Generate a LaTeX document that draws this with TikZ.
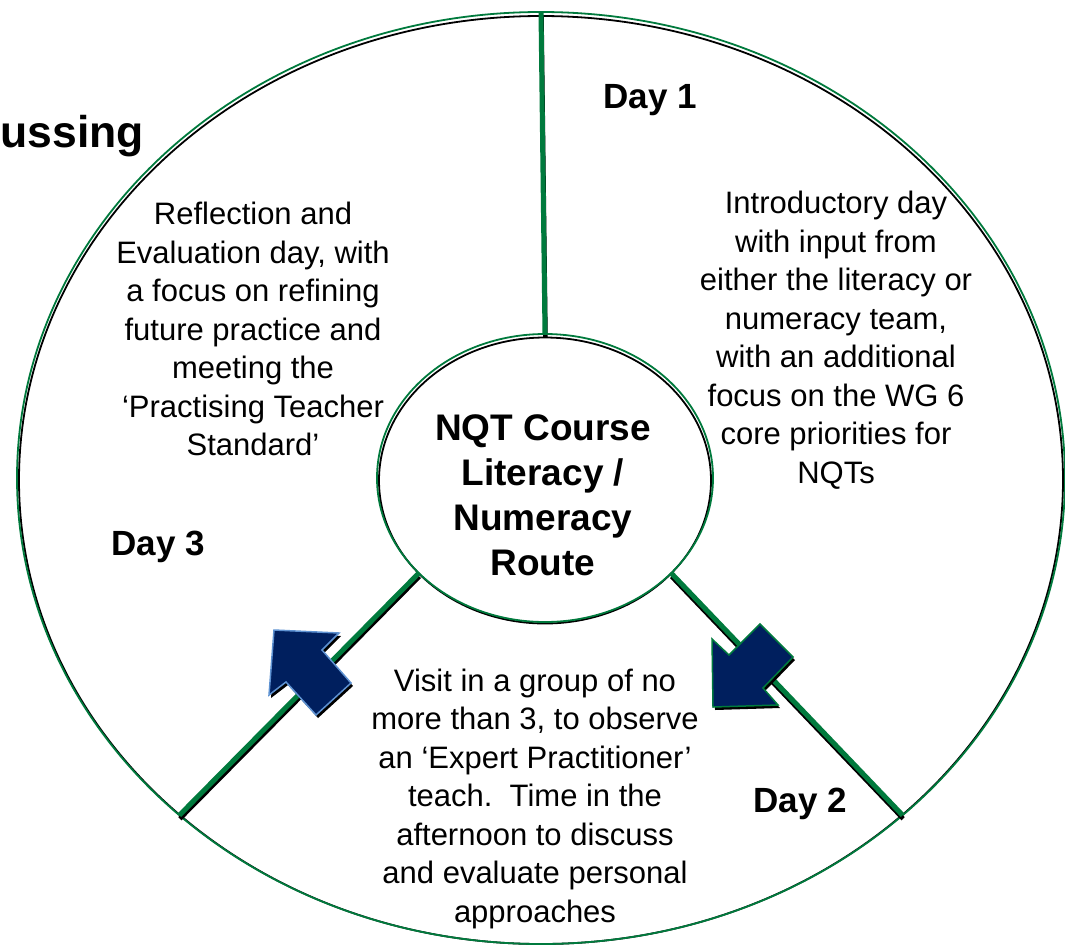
\documentclass[tikz,border=0pt]{standalone}
\usepackage{fontspec}
\setmainfont{Liberation Sans}
\usetikzlibrary{shapes.geometric}
\definecolor{ringgreen}{HTML}{007A3D}
\definecolor{navyfill}{HTML}{001F5E}
\definecolor{lightblue}{HTML}{5E92D2}
\begin{document}
\begin{tikzpicture}[x=1pt,y=-1pt,
  ringline/.style={draw=ringgreen, line width=1.8pt},
  ringshadow/.style={draw=black, line width=1.8pt},
  spoke/.style={draw=ringgreen, line width=5pt},
  spokeshadow/.style={draw=black, line width=4.5pt},
  body/.style={align=center, font=\fontsize{31}{38.5}\selectfont},
  daylabel/.style={font=\bfseries\fontsize{35}{42}\selectfont},
  hubtext/.style={align=center, font=\bfseries\fontsize{37}{45}\selectfont},
  arrowshadow/.style={fill=black, draw=none},
  arrowbody/.style={fill=navyfill, line width=1.5pt, line join=miter},
  ring/.style={ellipse, ringline, inner sep=0pt, outer sep=0pt}
]
\useasboundingbox (0,0) rectangle (1065,946);
\clip (0,0) rectangle (1065,946);
\fill[white] (0,0) rectangle (1065,946);

% partial title at left
\node[anchor=base east, inner sep=0pt, font=\bfseries\fontsize{44.5}{52}\selectfont] (title) at (144,147) {ussing};

% outer ring
\draw[ringshadow] (541,480) ellipse [x radius=522, y radius=464];
\node[ring, minimum width=1048pt, minimum height=932pt] (rim) at (541,478) {};

% hub (shape first, outline drawn on top later)
\node[ring, draw=none, minimum width=336pt, minimum height=288pt] (hub) at (545,478) {};
\draw[ringshadow] (545,480.5) ellipse [x radius=166, y radius=143];

% spokes (shadow then green)
\draw[spokeshadow] ([shift={(0.5,3.5)}]rim.north) -- ([shift={(0.5,3.5)}]hub.north);
\draw[spokeshadow] ([shift={(0.5,3.5)}]rim.223.4) -- ([shift={(0.5,3.5)}]hub.217.9);
\draw[spokeshadow] ([shift={(0.5,3.5)}]rim.317.4) -- ([shift={(0.5,3.5)}]hub.323.8);

\draw[spoke] (rim.north) -- (hub.north);
\draw[spoke] (rim.223.4) -- (hub.217.9);
\draw[spoke] (rim.317.4) -- (hub.323.8);

\draw[ringline] (hub.center) ellipse [x radius=168, y radius=144];

% block arrows
\fill[arrowshadow, shift={(2,3)}] (274,630) -- (339,633) -- (322,650) -- (351,683) -- (316,715) -- (286,682) -- (269,695) -- cycle;
\path[arrowbody, draw=lightblue] (274,630) -- (339,633) -- (322,650) -- (351,683) -- (316,715) -- (286,682) -- (269,695) -- cycle;

\fill[arrowshadow, shift={(2,3)}] (713,707) -- (712,639) -- (729,655) -- (760,624) -- (793,657) -- (763,688) -- (778,705) -- cycle;
\path[arrowbody, draw=ringgreen] (713,707) -- (712,639) -- (729,655) -- (760,624) -- (793,657) -- (763,688) -- (778,705) -- cycle;

% texts
\node[hubtext] (hublabel) at (543,495) {NQT Course\\Literacy /\\Numeracy\\Route};
\node[daylabel] (day1) at (650,100.5) {Day 1};
\node[daylabel] (day2) at (800,803.5) {Day 2};
\node[daylabel] (day3) at (158,547) {Day 3};
\node[body] (text1) at (836,340) {Introductory day\\with input from\\either the literacy or\\numeracy team,\\with an additional\\focus on the WG 6\\core priorities for\\NQTs};
\node[body] (text3) at (253,329) {Reflection and\\Evaluation day, with\\a focus on refining\\future practice and\\meeting the\\‘Practising Teacher\\Standard’};
\node[body] (text2) at (535,798.5) {Visit in a group of no\\more than 3, to observe\\an ‘Expert Practitioner’\\teach.\ \ Time in the\\afternoon to discuss\\and evaluate personal\\approaches};
\end{tikzpicture}
\end{document}
